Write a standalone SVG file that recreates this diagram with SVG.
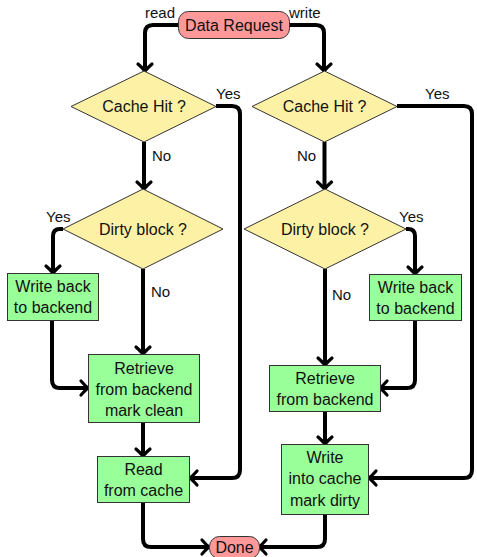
<svg xmlns="http://www.w3.org/2000/svg" width="477" height="557" viewBox="0 0 477 557">
<style>
text{font-family:"Liberation Sans","DejaVu Sans",sans-serif;fill:#111}
.n{font-size:16px;text-anchor:middle}
.l{font-size:15px}
.term{fill:#ff9999;stroke:#333;stroke-width:1}
.dec{fill:#fdf1a6;stroke:#333;stroke-width:1}
.box{fill:#99ff99;stroke:#333;stroke-width:1}
.c{fill:none;stroke:#000;stroke-width:4;marker-end:url(#arr)}
</style>
<defs>
<marker id="arr" markerUnits="userSpaceOnUse" markerWidth="20" markerHeight="20" viewBox="-10 -10 20 20" refX="-2" refY="0" orient="auto">
<path d="M-7,-7 Q-2,-1.5 0,0 Q-2,1.5 -7,7" fill="none" stroke="#000" stroke-width="3.2" stroke-linecap="round"/>
</marker>
</defs>
<g id="connectors">
<path class="c" d="M178,25 H153 Q145,25 145,33 V69"/>
<path class="c" d="M290,25 H316 Q324,25 324,33 V69"/>
<path class="c" d="M216,106 H232 Q240,106 240,114 V470 Q240,478 232,478 H192"/>
<path class="c" d="M397,106 H464 Q472,106 472,114 V470 Q472,478 464,478 H371"/>
<path class="c" d="M144,142 V187"/>
<path class="c" d="M324.5,142 V187"/>
<path class="c" d="M63,229 H60 Q53,229 53,236 V271"/>
<path class="c" d="M406,229 H408 Q415,229 415,236 V272"/>
<path class="c" d="M143,269 V352"/>
<path class="c" d="M325,269 V363"/>
<path class="c" d="M52,320 V380 Q52,388 60,388 H86"/>
<path class="c" d="M415,320 V380 Q415,388 407,388 H382"/>
<path class="c" d="M143,422 V454"/>
<path class="c" d="M325,411 V442"/>
<path class="c" d="M143,502 V539 Q143,547 151,547 H207"/>
<path class="c" d="M325,514 V539 Q325,547 317,547 H261"/>
</g>
<g id="labels">
<text class="l" x="175" y="18" text-anchor="end">read</text>
<text class="l" x="289" y="18">write</text>
<text class="l" x="216" y="99">Yes</text>
<text class="l" x="425" y="99">Yes</text>
<text class="l" x="152" y="161">No</text>
<text class="l" x="297" y="161">No</text>
<text class="l" x="46" y="222">Yes</text>
<text class="l" x="399" y="222">Yes</text>
<text class="l" x="151" y="297">No</text>
<text class="l" x="332" y="300">No</text>
</g>
<g id="data-request">
<rect class="term" x="178.5" y="11.5" width="111" height="27" rx="10"/>
<text class="n" x="234" y="30.5">Data Request</text>
</g>
<g id="cache-hit-read">
<polygon class="dec" points="144,71 216,106.5 144,142 71,106.5"/>
<text class="n" x="144" y="112">Cache Hit ?</text>
</g>
<g id="cache-hit-write">
<polygon class="dec" points="324.5,71 397,106.5 324.5,142 252,106.5"/>
<text class="n" x="324.5" y="112">Cache Hit ?</text>
</g>
<g id="dirty-read">
<polygon class="dec" points="143,189 223,229 143,269 63,229"/>
<text class="n" x="143" y="234.5">Dirty block ?</text>
</g>
<g id="dirty-write">
<polygon class="dec" points="325,189 406,229 325,269 244,229"/>
<text class="n" x="325" y="234.5">Dirty block ?</text>
</g>
<g id="writeback-read">
<rect class="box" x="7.5" y="273.5" width="91" height="47"/>
<text class="n" x="53" y="292">Write back</text>
<text class="n" x="53" y="313">to backend</text>
</g>
<g id="writeback-write">
<rect class="box" x="369.5" y="274.5" width="92" height="46"/>
<text class="n" x="415.5" y="293">Write back</text>
<text class="n" x="415.5" y="314">to backend</text>
</g>
<g id="retrieve-read">
<rect class="box" x="88.5" y="354.5" width="111" height="68"/>
<text class="n" x="144" y="374">Retrieve</text>
<text class="n" x="144" y="395">from backend</text>
<text class="n" x="144" y="416">mark clean</text>
</g>
<g id="retrieve-write">
<rect class="box" x="269.5" y="365.5" width="111" height="46"/>
<text class="n" x="325" y="384">Retrieve</text>
<text class="n" x="325" y="405">from backend</text>
</g>
<g id="read-cache">
<rect class="box" x="97.5" y="456.5" width="92" height="46"/>
<text class="n" x="143.5" y="475">Read</text>
<text class="n" x="143.5" y="496">from cache</text>
</g>
<g id="write-cache">
<rect class="box" x="281.5" y="444.5" width="87" height="70"/>
<text class="n" x="325" y="463">Write</text>
<text class="n" x="325" y="484">into cache</text>
<text class="n" x="325" y="506">mark dirty</text>
</g>
<g id="done">
<rect class="term" x="209.5" y="536.5" width="50" height="22" rx="10"/>
<text class="n" x="234.5" y="553">Done</text>
</g>
</svg>
